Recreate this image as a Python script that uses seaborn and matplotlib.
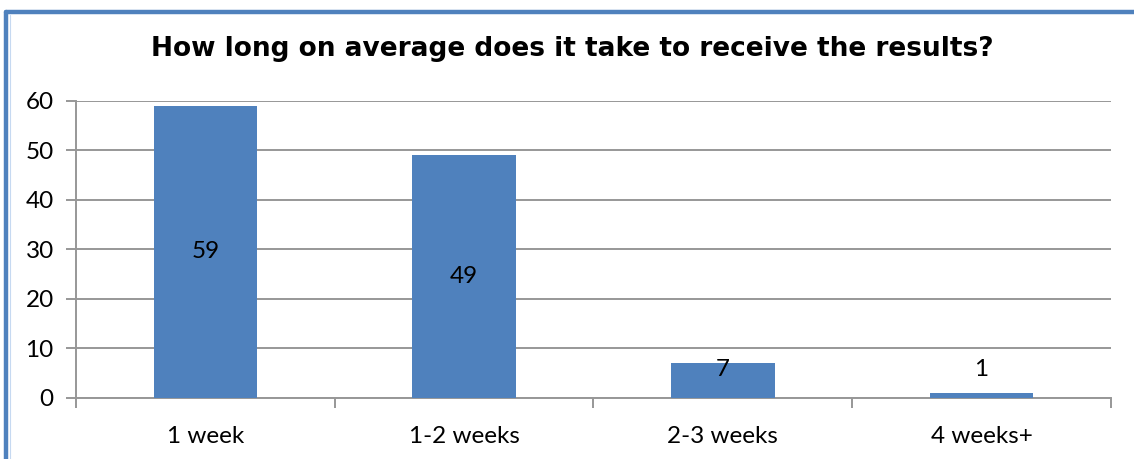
import matplotlib
matplotlib.use("Agg")
import matplotlib.pyplot as plt
import seaborn as sns
import pandas as pd
from matplotlib.lines import Line2D

categories = ["1 week", "1-2 weeks", "2-3 weeks", "4 weeks+"]
counts = [59, 49, 7, 1]
y_ticks = [0, 10, 20, 30, 40, 50, 60]
title = "How long on average does it take to receive the results?"

bar_color = "#4F81BD"
grid_color = "#979797"

sns.set_theme(style="white")
plt.rcParams["font.family"] = ["Lato", "DejaVu Sans"]

fig = plt.figure(figsize=(11.34, 4.59), dpi=100)
ax = fig.add_axes([0.067, 0.133, 0.9127, 0.647])

df = pd.DataFrame({"period": categories, "count": counts})
sns.barplot(data=df, x="period", y="count", color=bar_color, saturation=1,
            width=0.4, linewidth=0, ax=ax, zorder=3)

ax.set_xlim(-0.5, len(categories) - 0.5)
ax.set_ylim(0, 60)
ax.set_yticks(y_ticks)
ax.set_xlabel("")
ax.set_ylabel("")

# horizontal gridlines
ax.yaxis.grid(True, color=grid_color, linewidth=1.4, zorder=0)
ax.xaxis.grid(False)

for side in ["top", "right"]:
    ax.spines[side].set_visible(False)
for side in ["left", "bottom"]:
    ax.spines[side].set_color(grid_color)
    ax.spines[side].set_linewidth(1.4)

ax.tick_params(axis="y", which="major", length=7, width=1.4, color=grid_color,
               labelsize=17.5, pad=9, labelcolor="black", left=True)
ax.tick_params(axis="x", which="major", length=0, labelsize=17.5, pad=20,
               labelcolor="black")
# category boundary tick marks on the x axis
ax.set_xticks([i - 0.5 for i in range(len(categories) + 1)], minor=True)
ax.tick_params(axis="x", which="minor", length=7, width=1.4, color=grid_color,
               bottom=True)

# value labels
for i, v in enumerate(counts):
    ax.text(i, max(v / 2, 5.7), str(v), ha="center", va="center",
            fontsize=17.5, color="black", zorder=4)

fig.text(0.505, 0.893, title, ha="center", va="center", fontsize=19,
         fontweight="bold", family=["DejaVu Sans"], color="black")

# frame lines along the left and top edges
fig.add_artist(Line2D([6 / 1134, 6 / 1134], [0, 1 - 12 / 459],
                      transform=fig.transFigure, color=bar_color, linewidth=3.2))
fig.add_artist(Line2D([6 / 1134, 1], [1 - 12 / 459, 1 - 12 / 459],
                      transform=fig.transFigure, color=bar_color, linewidth=3.2))
fig.add_artist(Line2D([9.5 / 1134, 9.5 / 1134], [0, 1 - 14.5 / 459],
                      transform=fig.transFigure, color="#C6D9F1", linewidth=0.8))

fig.savefig("out.png", dpi=100)
